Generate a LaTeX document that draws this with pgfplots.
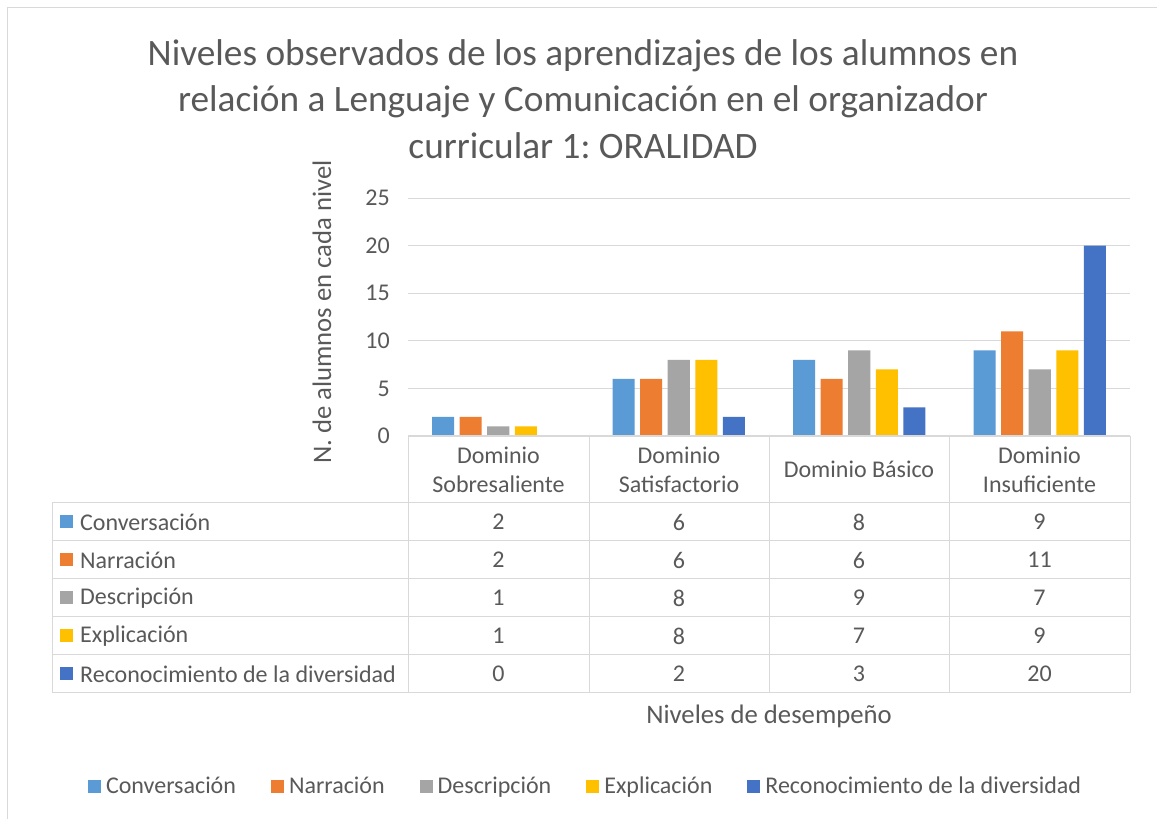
\documentclass[border=0pt]{standalone}
\usepackage{fontspec}
\setmainfont{Carlito}
\usepackage{pgfplots}
\pgfplotsset{compat=1.18}
\definecolor{cConv}{HTML}{5B9BD5}
\definecolor{cNarr}{HTML}{ED7D31}
\definecolor{cDesc}{HTML}{A5A5A5}
\definecolor{cExpl}{HTML}{FFC000}
\definecolor{cReco}{HTML}{4472C4}
\definecolor{txt}{HTML}{595959}
\definecolor{gridc}{HTML}{D9D9D9}
\newcommand{\fs}{\fontsize{24}{29.3}\selectfont}
\newcommand{\fa}{\fontsize{26.7}{32}\selectfont}
\frenchspacing
\begin{document}
\begin{tikzpicture}[x=1pt,y=1pt]
\useasboundingbox (0,0) rectangle (1157,819);
\fill[white] (0,0) rectangle (1157,819);
% chart frame
\draw[gridc,line width=1.2pt] (7.5,0) -- (7.5,811.5) -- (1157,811.5);
% title
\node[text=txt,align=center,font=\fontsize{37.3}{46.5}\selectfont] at (583,819-99) {Niveles observados de los aprendizajes de los alumnos en\\relación a Lenguaje y Comunicación en el organizador\\curricular 1: ORALIDAD};
\begin{axis}[
  at={(408pt,383pt)}, anchor=south west,
  scale only axis, width=722pt, height=238pt,
  xmin=-0.5, xmax=3.5, ymin=0, ymax=25,
  ytick={0,5,10,15,20,25}, xtick=\empty,
  ymajorgrids, grid style={gridc,line width=0.8pt},
  axis line style={draw=none}, major tick length=0pt,
  yticklabel style={font=\fs, text=txt, inner sep=0pt, xshift=-18pt},
  /pgf/number format/assume math mode=true,
  ybar, bar width=0.122,
  legend columns=5,
  legend style={draw=none, at={(0.2445,-1.483)}, anchor=center, font=\fs, text=txt,
    nodes={inner sep=0pt, text height=16pt, text depth=6pt, anchor=base},
    /tikz/every odd column/.append style={column sep=5pt},
    /tikz/every even column/.append style={column sep=35pt}},
  legend image code/.code={\fill[#1,draw=none] (0pt,1pt) rectangle (13pt,14pt);},
]
\addplot[fill=cConv,draw=none,bar shift=-0.306] coordinates {(0,2) (1,6) (2,8) (3,9)};
\addplot[fill=cNarr,draw=none,bar shift=-0.153] coordinates {(0,2) (1,6) (2,6) (3,11)};
\addplot[fill=cDesc,draw=none,bar shift=0] coordinates {(0,1) (1,8) (2,9) (3,7)};
\addplot[fill=cExpl,draw=none,bar shift=0.153] coordinates {(0,1) (1,8) (2,7) (3,9)};
\addplot[fill=cReco,draw=none,bar shift=0.306] coordinates {(0,0) (1,2) (2,3) (3,20)};
\legend{Conversación,Narración,Descripción,Explicación,Reconocimiento de la diversidad}
\end{axis}
% y label
\node[rotate=90,text=txt,font=\fa] at (322,819-312) {N. de alumnos en cada nivel};
% data table lines
\begin{scope}[gridc,line width=1pt]
\draw (408,819-436) -- (1130,819-436);
\foreach \yy in {503,541,579,617,655,693} \draw (52,819-\yy) -- (1130,819-\yy);
\foreach \xx in {408,589,769,949,1130} \draw (\xx,819-436) -- (\xx,819-693);
\draw (52,819-503) -- (52,819-693);
\end{scope}
% header
\begin{scope}[every node/.style={text=txt,font=\fs,align=center}]
\node at (498.5,819-469.5) {Dominio\\Sobresaliente};
\node at (679,819-469.5) {Dominio\\Satisfactorio};
\node at (859,819-469.5) {Dominio Básico};
\node at (1039.5,819-469.5) {Dominio\\Insuficiente};
\end{scope}
% row labels
\begin{scope}[every node/.style={text=txt,font=\fs,anchor=west,inner sep=0pt}]
\fill[cConv] (60,819-528.5) rectangle (73,819-515.5); \node at (80,819-522) {Conversación};
\fill[cNarr] (60,819-566.5) rectangle (73,819-553.5); \node at (80,819-560) {Narración};
\fill[cDesc] (60,819-604.5) rectangle (73,819-591.5); \node at (80,819-598) {Descripción};
\fill[cExpl] (60,819-642.5) rectangle (73,819-629.5); \node at (80,819-636) {Explicación};
\fill[cReco] (60,819-680.5) rectangle (73,819-667.5); \node at (80,819-674) {Reconocimiento de la diversidad};
\end{scope}
% values
\begin{scope}[every node/.style={text=txt,font=\fs}]
\foreach \a/\b/\c/\d [count=\r] in {2/6/8/9, 2/6/6/11, 1/8/9/7, 1/8/7/9, 0/2/3/20} {
  \pgfmathsetmacro{\yc}{819-522-38*(\r-1)}
  \node at (498.5,\yc) {\a};
  \node at (679,\yc) {\b};
  \node at (859,\yc) {\c};
  \node at (1039.5,\yc) {\d};
}
\end{scope}
% x label
\node[text=txt,font=\fa] at (769,819-716) {Niveles de desempeño};
\end{tikzpicture}
\end{document}
